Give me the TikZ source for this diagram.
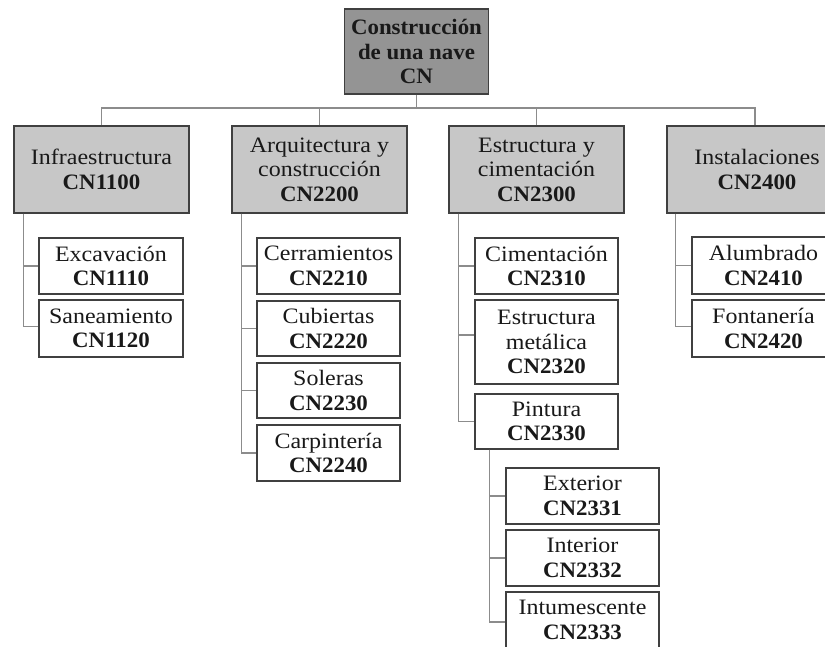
\documentclass[tikz,border=0pt]{standalone}
\usepackage{fontspec}
\setmainfont{Liberation Serif}[FakeStretch=1.09,BoldFeatures={FakeStretch=1.04}]
\begin{document}
\begin{tikzpicture}[x=1pt,y=-1pt,
  box/.style={draw=black!75,line width=1.3pt,inner sep=0pt,align=center,
    text=black!90,font=\fontsize{22}{24.5}\selectfont},
  rootbox/.style={box,fill=black!42,font=\fontsize{22}{24.5}\selectfont\bfseries},
  lvlbox/.style={box,fill=black!22,minimum width=175pt,minimum height=87pt},
  kidbox/.style={box,fill=white,minimum width=143pt,minimum height=56pt},
  conn/.style={draw=black!45,line width=1.2pt}]
\useasboundingbox (0,0) rectangle (825,646);
\clip (0,0) rectangle (825,646);
\coordinate (busy) at (0,108);
% root
\node[rootbox,minimum width=144pt,minimum height=85pt] (root) at (416.5,51.5) {Construcción\\de una nave\\CN};
% level 1
\node[lvlbox] (inf) at (101.5,169.5) {Infraestructura\\\textbf{CN1100}};
\node[lvlbox] (arq) at (319.5,169.5) {Arquitectura y\\construcción\\\textbf{CN2200}};
\node[lvlbox] (est) at (536.5,169.5) {Estructura y\\cimentación\\\textbf{CN2300}};
\node[lvlbox,minimum width=180pt] (ins) at (757,169.5) {Instalaciones\\\textbf{CN2400}};
% infraestructura kids
\node[kidbox,minimum width=144pt] (exc) at (111,266) {Excavación\\\textbf{CN1110}};
\node[kidbox,minimum width=144pt,minimum height=57pt] (san) at (111,328.5) {Saneamiento\\\textbf{CN1120}};
% arquitectura kids
\node[kidbox] (cer) at (328.5,266) {Cerramientos\\\textbf{CN2210}};
\node[kidbox,minimum height=55pt] (cub) at (328.5,328.5) {Cubiertas\\\textbf{CN2220}};
\node[kidbox,minimum height=55pt] (sol) at (328.5,390.5) {Soleras\\\textbf{CN2230}};
\node[kidbox] (car) at (328.5,453) {Carpintería\\\textbf{CN2240}};
% estructura kids
\node[kidbox] (cim) at (546.5,266) {Cimentación\\\textbf{CN2310}};
\node[kidbox,minimum height=84pt] (met) at (546.5,342) {Estructura\\metálica\\\textbf{CN2320}};
\node[kidbox,minimum height=55pt] (pin) at (546.5,421.5) {Pintura\\\textbf{CN2330}};
% pintura kids
\node[kidbox,minimum width=153pt] (ext) at (582.5,496) {Exterior\\\textbf{CN2331}};
\node[kidbox,minimum width=153pt] (int) at (582.5,558) {Interior\\\textbf{CN2332}};
\node[kidbox,minimum width=153pt] (itu) at (582.5,620) {Intumescente\\\textbf{CN2333}};
% instalaciones kids
\node[kidbox,minimum height=57pt] (alu) at (763.5,265.5) {Alumbrado\\\textbf{CN2410}};
\node[kidbox,minimum height=57pt] (fon) at (763.5,328.5) {Fontanería\\\textbf{CN2420}};
% bus connectors
\draw[conn] (root.south) -- (root.south |- busy);
\draw[conn] (inf.north) -- (inf.north |- busy) -- ([xshift=-2pt]ins.north |- busy) -- ([xshift=-2pt]ins.north);
\draw[conn] (arq.north) -- (arq.north |- busy);
\draw[conn] (est.north) -- (est.north |- busy);
% child connectors
\draw[conn] ([xshift=10pt]inf.south west) |- (exc.west);
\draw[conn] ([xshift=10pt]inf.south west) |- ([yshift=2pt]san.west);
\draw[conn] ([xshift=10pt]arq.south west) |- (cer.west);
\draw[conn] ([xshift=10pt]arq.south west) |- (cub.west);
\draw[conn] ([xshift=10pt]arq.south west) |- (sol.west);
\draw[conn] ([xshift=10pt]arq.south west) |- (car.west);
\draw[conn] ([xshift=10pt]est.south west) |- (cim.west);
\draw[conn] ([xshift=10pt]est.south west) |- ([yshift=7pt]met.west);
\draw[conn] ([xshift=10pt]est.south west) |- (pin.west);
\draw[conn] ([xshift=15pt]pin.south west) |- (ext.west);
\draw[conn] ([xshift=15pt]pin.south west) |- (int.west);
\draw[conn] ([xshift=15pt]pin.south west) |- ([yshift=-2pt]itu.west);
\draw[conn] ([xshift=9pt]ins.south west) |- (alu.west);
\draw[conn] ([xshift=9pt]ins.south west) |- ([yshift=2pt]fon.west);
\end{tikzpicture}
\end{document}
